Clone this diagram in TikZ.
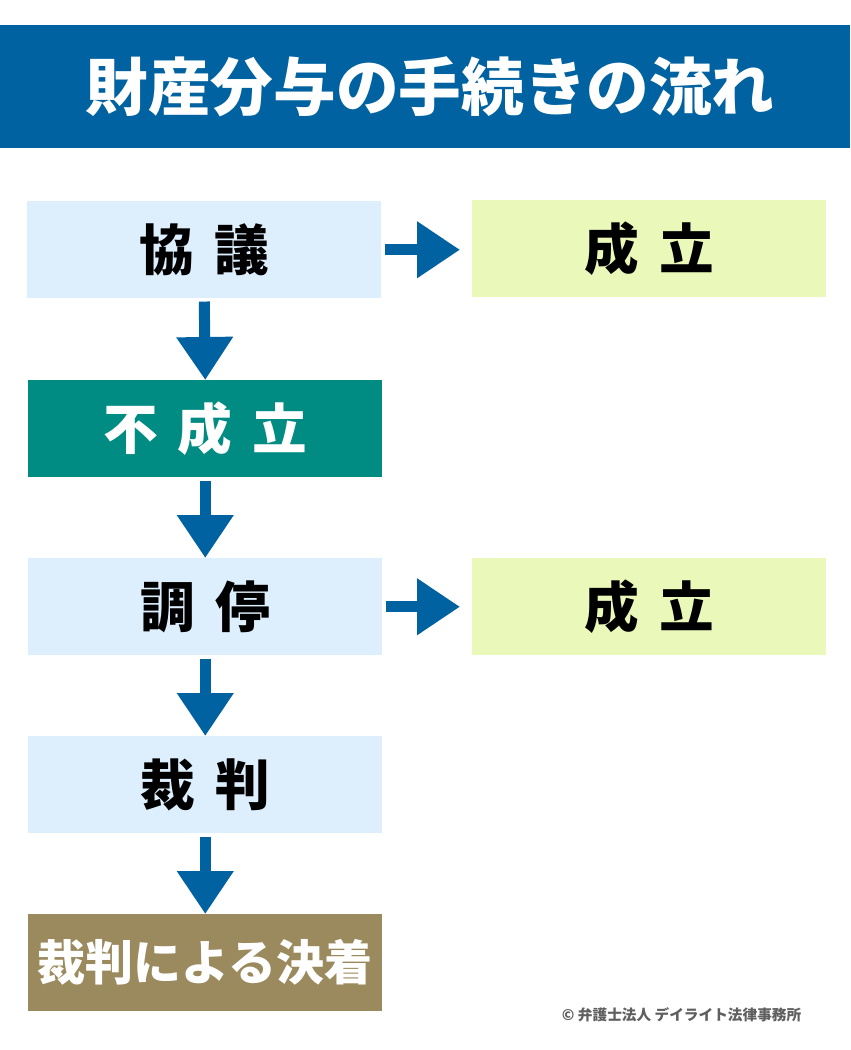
\documentclass[tikz,border=0pt]{standalone}
\usepackage{fontspec}
\usetikzlibrary{arrows.meta}
\newfontfamily\cjk{Noto Sans CJK JP}
\definecolor{bandblue}{RGB}{0,98,160}
\definecolor{lightblue}{RGB}{221,238,252}
\definecolor{lightgreen}{RGB}{234,248,185}
\definecolor{teal2}{RGB}{0,140,130}
\definecolor{brown2}{RGB}{155,138,94}
\definecolor{copygray}{RGB}{95,95,95}
\newcommand{\gapsp}{\hspace{0.37em}}
\tikzset{
  box/.style={minimum width=354*0.75pt, minimum height=97*0.75pt, inner sep=0pt, anchor=north west, font=\cjk\bfseries\fontsize{41}{41}\selectfont},
  stepbox/.style={box, fill=lightblue, text=black},
  okbox/.style={box, fill=lightgreen, text=black},
  failbox/.style={box, fill=teal2, text=white},
  endbox/.style={box, fill=brown2, text=white, font=\cjk\bfseries\fontsize{36}{36}\selectfont},
  flow/.style={draw=bandblue, line width=11*0.75pt, -{Triangle[width=54*0.75pt,length=43*0.75pt]}}
}
\begin{document}
\begin{tikzpicture}[x=0.75pt,y=-0.75pt]
\useasboundingbox (0,0) rectangle (850,1050);
\fill[white] (0,0) rectangle (850,1050);
\fill[bandblue] (0,25) rectangle (850,148);
\node[text=white, font=\cjk\bfseries\fontsize{47}{47}\selectfont] (title) at (430,87) {財産分与の手続きの流れ};

\node[stepbox] (kyogi) at (27,201) {協\gapsp 議};
\node[okbox] (ok1) at (472,200) {成\gapsp 立};
\node[failbox] (fusei) at (28,380) {不\gapsp 成\gapsp 立};
\node[stepbox] (chotei) at (28,558) {調\gapsp 停};
\node[okbox] (ok2) at (472,558) {成\gapsp 立};
\node[stepbox] (saiban) at (28,736) {裁\gapsp 判};
\node[endbox] (kecchaku) at (28,914) {裁判による決着};

\draw[flow] ([yshift=-3*0.75pt]kyogi.south) -- (fusei.north);
\draw[flow] ([yshift=-3*0.75pt]fusei.south) -- (chotei.north);
\draw[flow] ([yshift=-3*0.75pt]chotei.south) -- (saiban.north);
\draw[flow] ([yshift=-3*0.75pt]saiban.south) -- (kecchaku.north);
\draw[flow, shorten >=12*0.75pt] ([xshift=3*0.75pt]kyogi.east) -- (ok1.west |- kyogi.east);
\draw[flow, shorten >=12*0.75pt] ([xshift=3*0.75pt]chotei.east) -- (ok2.west |- chotei.east);

\node[anchor=east, text=copygray, font=\cjk\bfseries\fontsize{11}{11}\selectfont] (copy) at (806,1015) {© 弁護士法人 デイライト法律事務所};
\end{tikzpicture}
\end{document}
